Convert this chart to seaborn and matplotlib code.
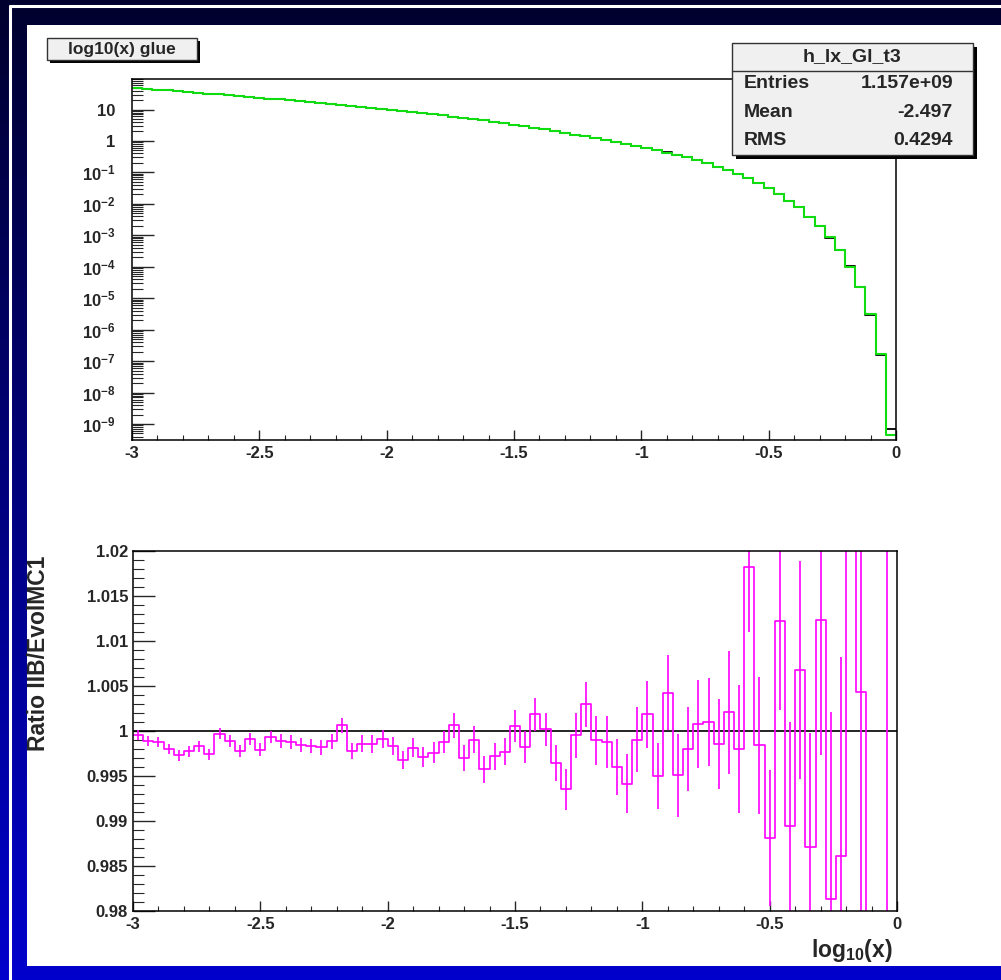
import matplotlib
matplotlib.use('Agg')
import matplotlib.pyplot as plt
import matplotlib.ticker as mticker
from matplotlib.patches import Rectangle
from matplotlib.colors import LinearSegmentedColormap
import seaborn as sns
import numpy as np
import pandas as pd

W, H = 1001, 980

# binning of log10(x): 75 bins from -3 to 0
x_lo, x_hi, n_bins = -3.0, 0.0, 75

# EvolMC1 histogram (green)
evol_counts = [
    47.3, 45.0, 42.8, 40.6, 38.5, 36.3, 34.2, 32.2, 30.3, 28.6,
    26.9, 25.2, 23.7, 22.3, 20.9, 19.7, 18.5, 17.3, 16.2, 15.1,
    14.1, 13.1, 12.2, 11.4, 10.5, 9.75, 9.02, 8.32, 7.67, 7.08,
    6.51, 5.96, 5.45, 4.95, 4.49, 4.06, 3.66, 3.28, 2.93, 2.62,
    2.32, 2.06, 1.81, 1.59, 1.40, 1.22, 1.06, 0.919, 0.794, 0.684,
    0.587, 0.502, 0.428, 0.357, 0.302, 0.248, 0.195, 0.152, 0.119, 0.0889,
    0.0649, 0.0450, 0.0312, 0.0206, 0.0126, 7.76e-3, 3.90e-3, 1.98e-3, 8.63e-4, 3.41e-4,
    1.00e-4, 2.22e-5, 3.08e-6, 1.68e-7, 4.5e-10,
]

# ratio IIB / EvolMC1 per bin and its error
ratio_vals = [
    0.99959, 0.99885, 0.99878, 0.99796, 0.9973, 0.99774, 0.9983, 0.9974, 0.9997, 0.99889,
    0.99774, 0.99915, 0.99793, 0.99933, 0.99889, 0.99878, 0.99848, 0.99837, 0.99819, 0.99885,
    1.00063, 0.99778, 0.99859, 0.99856, 0.99911, 0.99833, 0.99678, 0.99815, 0.99707, 0.99759,
    0.99881, 1.00063, 0.997, 0.99904, 0.99574, 0.99719, 0.9977, 1.00056, 0.99822, 1.00185,
    1.00019, 0.99648, 0.99352, 0.99952, 1.003, 0.99896, 0.99881, 0.99604, 0.99415, 0.99904,
    1.00185, 0.995, 1.00426, 0.99507, 0.998, 1.00081, 1.001, 0.99859, 1.00207, 0.99804,
    1.01822, 0.99841, 0.98811, 1.01226, 0.98941, 1.00681, 0.98715, 1.01233, 0.98133, 0.98611,
    1.04, 1.00437, 0.95, 0.93, 1.53,
]
ratio_errs = [
    0.00055, 0.00055, 0.00056, 0.00057, 0.00058, 0.0006, 0.0006, 0.00062, 0.00063, 0.00065,
    0.00066, 0.00068, 0.0007, 0.00071, 0.00073, 0.00075, 0.00077, 0.00079, 0.00081, 0.00084,
    0.00086, 0.00089, 0.00092, 0.00095, 0.00098, 0.001, 0.00104, 0.00108, 0.00112, 0.00116,
    0.0012, 0.0014, 0.0014, 0.0015, 0.0015, 0.0015, 0.0015, 0.0018, 0.0018, 0.0018,
    0.00185, 0.002, 0.0023, 0.0025, 0.0025, 0.0027, 0.0029, 0.0031, 0.0033, 0.0036,
    0.0037, 0.0037, 0.0042, 0.0046, 0.0047, 0.0049, 0.0049, 0.005, 0.0068, 0.0071,
    0.0072, 0.0076, 0.0076, 0.0099, 0.0116, 0.0121, 0.0126, 0.015, 0.0208, 0.0221,
    0.015, 0.03, 0.02, 0.03, 0.3,
]

x_ticks = [-3, -2.5, -2, -1.5, -1, -0.5, 0]
x_ticklabels = ['-3', '-2.5', '-2', '-1.5', '-1', '-0.5', '0']
log_ticks = [1e-9, 1e-8, 1e-7, 1e-6, 1e-5, 1e-4, 1e-3, 1e-2, 1e-1, 1, 10]
log_ticklabels = [r'$\mathbf{10^{-9}}$', r'$\mathbf{10^{-8}}$', r'$\mathbf{10^{-7}}$',
                  r'$\mathbf{10^{-6}}$', r'$\mathbf{10^{-5}}$', r'$\mathbf{10^{-4}}$',
                  r'$\mathbf{10^{-3}}$', r'$\mathbf{10^{-2}}$', r'$\mathbf{10^{-1}}$',
                  '1', '10']
ratio_ticks = [0.98, 0.985, 0.99, 0.995, 1.0, 1.005, 1.01, 1.015, 1.02]
ratio_ticklabels = ['0.98', '0.985', '0.99', '0.995', '1', '1.005', '1.01', '1.015', '1.02']

hist_title = 'log10(x) glue'
stats_title = 'h_lx_Gl_t3'
stats_names = ['Entries', 'Mean', 'RMS']
stats_values = ['1.157e+09', '-2.497', '0.4294']

edges = np.linspace(x_lo, x_hi, n_bins + 1)
bin_list = edges.tolist()
df = pd.DataFrame({
    'center': 0.5 * (edges[:-1] + edges[1:]),
    'evol': evol_counts,
    'ratio': ratio_vals,
    'err': ratio_errs,
})
df['iib'] = df['evol'] * df['ratio']

sns.set_style('white')
plt.rcParams['font.family'] = ['Liberation Sans', 'DejaVu Sans']
plt.rcParams['font.weight'] = 'bold'
plt.rcParams['axes.unicode_minus'] = False
plt.rcParams['mathtext.fontset'] = 'custom'
plt.rcParams['mathtext.rm'] = 'Liberation Sans:bold'
plt.rcParams['mathtext.bf'] = 'Liberation Sans:bold'
plt.rcParams['mathtext.it'] = 'Liberation Sans:bold'


def fx(px):
    return px / W


def fy(py):
    return 1 - py / H


fig = plt.figure(figsize=(W / 100, H / 100), dpi=100)

# canvas background: blue gradient, white frame line, white pad
bg = fig.add_axes([0, 0, 1, 1], zorder=-5)
cmap = LinearSegmentedColormap.from_list('rootbg', ['#00002e', '#0000cc'])
bg.imshow(np.linspace(0, 1, 256)[:, None], aspect='auto', cmap=cmap, extent=[0, W, H, 0])
bg.plot([9.5, 9.5], [6.5, H], color='white', lw=2.2)
bg.plot([9.5, W], [6.5, 6.5], color='white', lw=2.2)
bg.add_patch(Rectangle((27, 25), W - 27, 966 - 25, facecolor='white', edgecolor='none'))
bg.set_xlim(0, W)
bg.set_ylim(H, 0)
bg.axis('off')


def style_axis(ax, ylen, ypad):
    for side in ['left', 'bottom', 'top', 'right']:
        ax.spines[side].set_color('black')
        ax.spines[side].set_linewidth(1.1)
    ax.tick_params(axis='y', which='major', direction='in', length=ylen, width=1.0,
                   pad=ypad, labelsize=12, left=True, right=False)
    ax.tick_params(axis='y', which='minor', direction='in', length=ylen / 2, width=0.8,
                   left=True, right=False)
    ax.tick_params(axis='x', which='major', direction='in', length=7.2, width=1.0,
                   pad=4, labelsize=12, bottom=True, top=False)
    ax.tick_params(axis='x', which='minor', direction='in', length=3.6, width=0.8,
                   bottom=True, top=False)
    ax.set_xlim(x_lo, x_hi)
    ax.set_xticks(x_ticks)
    ax.set_xticklabels(x_ticklabels)
    ax.xaxis.set_minor_locator(mticker.MultipleLocator(0.1))
    ax.set_xlabel('')
    ax.set_ylabel('')


# upper pad: the two histograms on a log scale
ax1 = fig.add_axes([fx(132), fy(440), fx(896) - fx(132), (440 - 79) / H])
ax1.set_facecolor('white')
sns.histplot(data=df, x='center', weights='iib', bins=bin_list, element='step', fill=False,
             color='black', linewidth=1.3, ax=ax1)
sns.histplot(data=df, x='center', weights='evol', bins=bin_list, element='step', fill=False,
             color='#10dd10', linewidth=1.5, ax=ax1)
ax1.set_yscale('log')
ax1.set_ylim(10 ** -9.509, 10 ** 1.97)
style_axis(ax1, 16, 12)
ax1.yaxis.set_major_locator(mticker.FixedLocator(log_ticks))
ax1.yaxis.set_major_formatter(mticker.FixedFormatter(log_ticklabels))
ax1.yaxis.set_minor_locator(mticker.LogLocator(base=10, subs=np.arange(2, 10), numticks=100))
ax1.yaxis.set_minor_formatter(mticker.NullFormatter())

# lower pad: ratio with error bars
ax2 = fig.add_axes([fx(133), fy(911), fx(897) - fx(133), (911 - 551) / H])
ax2.set_facecolor('white')
ax2.axhline(1.0, color='black', lw=1.2, zorder=1)
sns.histplot(data=df, x='center', weights='ratio', bins=bin_list, element='step', fill=False,
             color='#ff00ff', linewidth=1.2, ax=ax2, zorder=2)
ax2.errorbar(df['center'], df['ratio'], yerr=df['err'], fmt='none', ecolor='#ff00ff',
             elinewidth=1.2, capsize=0, zorder=2)
ax2.set_ylim(0.98, 1.02)
style_axis(ax2, 16, 3.6)
ax2.set_yticks(ratio_ticks)
ax2.set_yticklabels(ratio_ticklabels)
ax2.yaxis.set_minor_locator(mticker.MultipleLocator(0.001))

fig.text(fx(39), fy(653), 'Ratio IIB/EvolMC1', rotation=90, ha='center', va='center',
         fontsize=16.5, fontweight='bold')
fig.text(fx(893), fy(957), r'$\mathbf{log_{10}(x)}$', ha='right', va='baseline', fontsize=16.5)

# title box with shadow
fig.add_artist(Rectangle((fx(50), fy(63)), fx(150), (60 - 38) / H, transform=fig.transFigure,
                         facecolor='black', edgecolor='none', zorder=5))
fig.add_artist(Rectangle((fx(47), fy(60)), fx(150), (60 - 38) / H, transform=fig.transFigure,
                         facecolor='#f0f0f0', edgecolor='#333333', lw=1.0, zorder=6))
fig.text(fx(122), fy(49.5), hist_title, ha='center', va='center', fontsize=12.5,
         fontweight='bold', zorder=7)

# statistics box
fig.add_artist(Rectangle((fx(736), fy(159)), fx(241), (155 - 43) / H, transform=fig.transFigure,
                         facecolor='black', edgecolor='none', zorder=5))
fig.add_artist(Rectangle((fx(732), fy(155)), fx(241), (155 - 43) / H, transform=fig.transFigure,
                         facecolor='#f0f0f0', edgecolor='#333333', lw=1.0, zorder=6))
fig.add_artist(plt.Line2D([fx(732), fx(973)], [fy(71.5), fy(71.5)], transform=fig.transFigure,
                          color='#333333', lw=1.0, zorder=7))
fig.text(fx(852.5), fy(57), stats_title, ha='center', va='center', fontsize=14,
         fontweight='bold', zorder=7)
for i, (name, val) in enumerate(zip(stats_names, stats_values)):
    yy = 84 + i * 28.3
    fig.text(fx(744), fy(yy), name, ha='left', va='center', fontsize=14, fontweight='bold', zorder=7)
    fig.text(fx(953), fy(yy), val, ha='right', va='center', fontsize=14, fontweight='bold', zorder=7)

fig.savefig('out.png', dpi=100)
plt.close(fig)
